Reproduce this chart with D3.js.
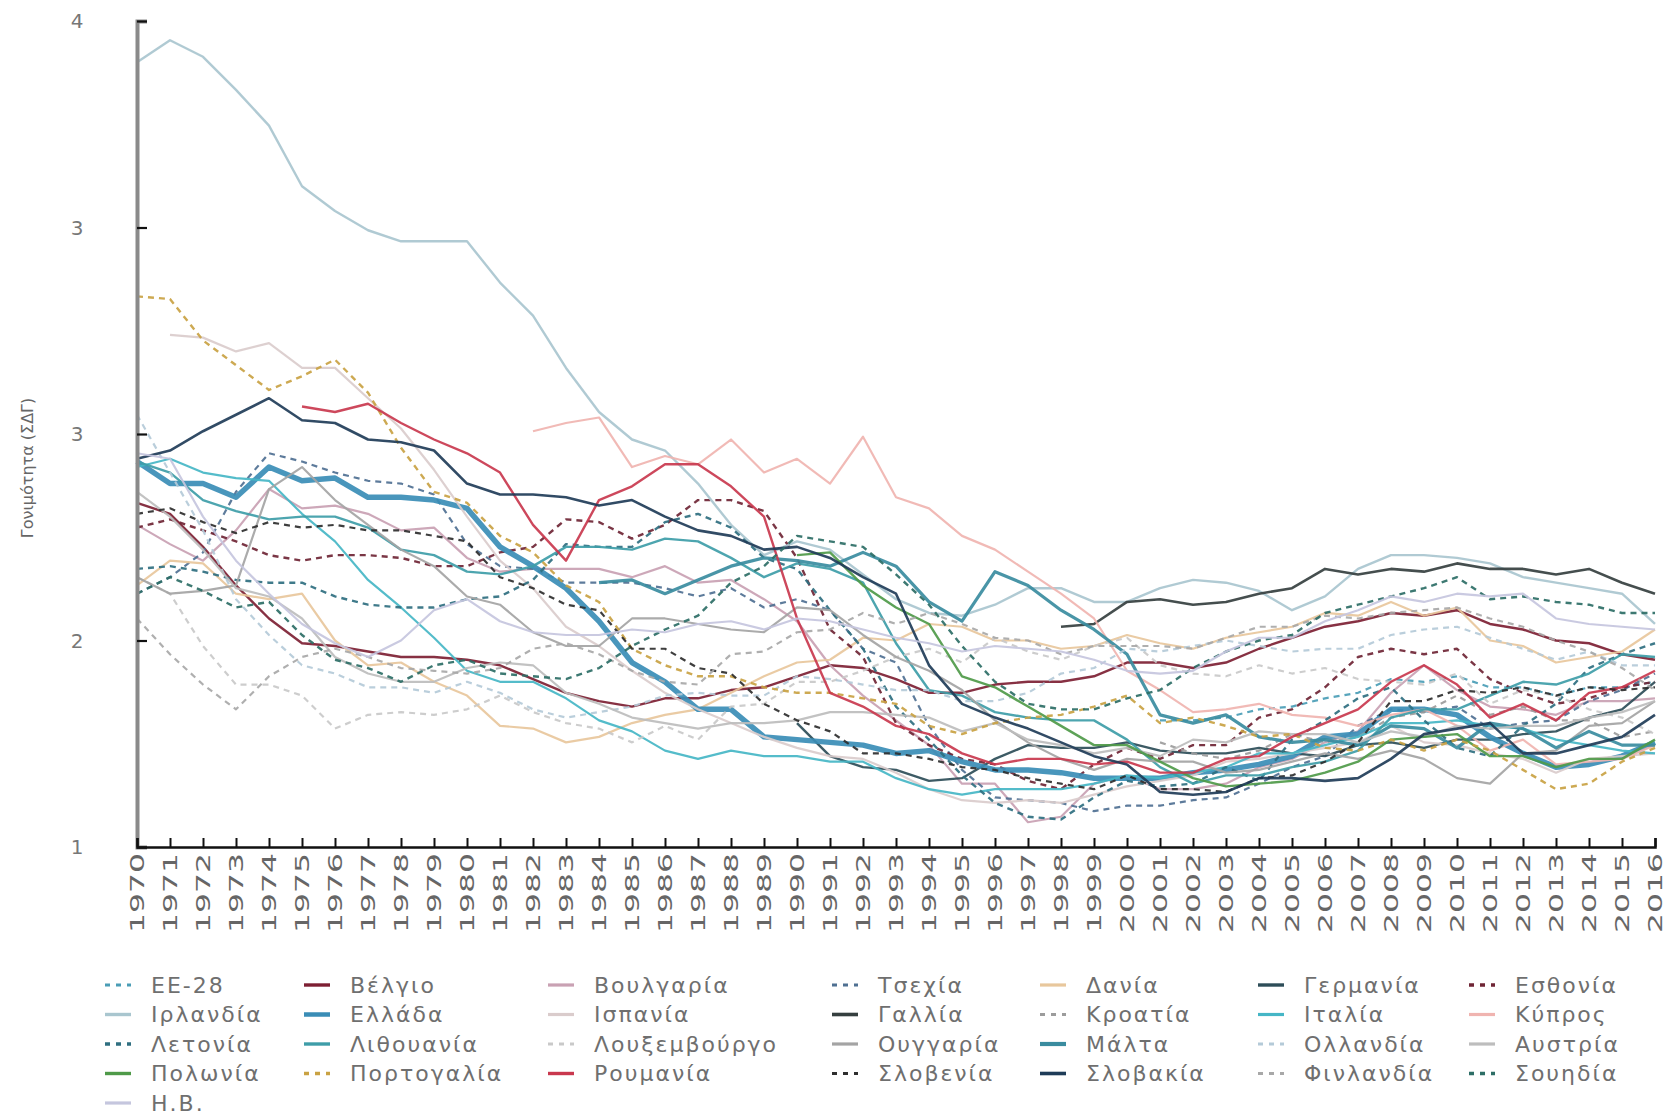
<!DOCTYPE html>
<html lang="el">
<head>
<meta charset="utf-8">
<title>Γονιμότητα (ΣΔΓ) 1970-2016</title>
<script src="https://d3js.org/d3.v7.min.js"></script>
<style>
  body { margin: 0; background: #fff; }
  text { font-family: "DejaVu Sans", sans-serif; }
</style>
</head>
<body>
<div id="chart"></div>
<script>
// categories
const years = [1970,1971,1972,1973,1974,1975,1976,1977,1978,1979,
  1980,1981,1982,1983,1984,1985,1986,1987,1988,1989,
  1990,1991,1992,1993,1994,1995,1996,1997,1998,1999,
  2000,2001,2002,2003,2004,2005,2006,2007,2008,2009,
  2010,2011,2012,2013,2014,2015,2016];

const yTicks = [1, 1.75, 2.5, 3.25, 4];
const yTickLabels = ["1", "2", "3", "3", "4"];

const names = ["ΕΕ-28","Βέλγιο","Βουλγαρία","Τσεχία","Δανία","Γερμανία","Εσθονία",
  "Ιρλανδία","Ελλάδα","Ισπανία","Γαλλία","Κροατία","Ιταλία","Κύπρος",
  "Λετονία","Λιθουανία","Λουξεμβούργο","Ουγγαρία","Μάλτα","Ολλανδία","Αυστρία",
  "Πολωνία","Πορτογαλία","Ρουμανία","Σλοβενία","Σλοβακία","Φινλανδία","Σουηδία",
  "Η.Β."];

// series values, one per year (null = no data)
const _ = null;
const eu28 = [_,_,_,_,_,_,_,_,_,_, _,_,_,_,_,_,_,_,_,_, _,_,_,_,_,_,_,_,_,_,
  _,1.46,1.46,1.47,1.50,1.51,1.54,1.56,1.61,1.60, 1.62,1.58,1.58,1.55,1.58,1.58,1.60];
const belgium = [2.25,2.21,2.09,1.95,1.83,1.74,1.73,1.71,1.69,1.69, 1.68,1.66,1.61,1.56,1.53,1.51,1.54,1.54,1.57,1.58,
  1.62,1.66,1.65,1.61,1.56,1.56,1.59,1.60,1.60,1.62, 1.67,1.67,1.65,1.67,1.72,1.76,1.80,1.82,1.85,1.84, 1.86,1.81,1.79,1.75,1.74,1.70,1.68];
const bulgaria = [2.17,2.10,2.04,2.15,2.30,2.23,2.24,2.21,2.15,2.16, 2.05,2.00,2.01,2.01,2.01,1.98,2.02,1.96,1.97,1.90,
  1.82,1.66,1.55,1.46,1.37,1.23,1.23,1.09,1.11,1.23, 1.26,1.21,1.21,1.23,1.29,1.32,1.38,1.42,1.56,1.66, 1.57,1.51,1.50,1.48,1.53,1.53,1.54];
const czechia = [1.92,1.98,2.07,2.29,2.43,2.40,2.36,2.33,2.32,2.28, 2.10,2.02,2.01,1.96,1.96,1.96,1.94,1.91,1.94,1.87,
  1.90,1.86,1.72,1.67,1.44,1.28,1.18,1.17,1.16,1.13, 1.15,1.15,1.17,1.18,1.23,1.29,1.33,1.44,1.50,1.49, 1.51,1.43,1.45,1.46,1.53,1.57,1.63];
const denmark = [1.95,2.04,2.03,1.92,1.90,1.92,1.75,1.66,1.67,1.60, 1.55,1.44,1.43,1.38,1.40,1.45,1.48,1.50,1.56,1.62,
  1.67,1.68,1.76,1.75,1.81,1.80,1.75,1.75,1.72,1.73, 1.77,1.74,1.72,1.76,1.78,1.80,1.85,1.84,1.89,1.84, 1.87,1.75,1.73,1.67,1.69,1.71,1.79];
const germany = [_,_,_,_,_,_,_,_,_,_, _,_,_,_,_,_,_,_,_,_,
  1.45,1.33,1.29,1.28,1.24,1.25,1.32,1.37,1.36,1.36, 1.38,1.35,1.34,1.34,1.36,1.34,1.33,1.37,1.38,1.36, 1.39,1.39,1.41,1.42,1.47,1.50,1.60];
const estonia = [2.16,2.19,2.15,2.11,2.06,2.04,2.06,2.06,2.05,2.02, 2.02,2.07,2.09,2.19,2.18,2.12,2.17,2.26,2.26,2.22,
  2.05,1.79,1.69,1.45,1.37,1.32,1.30,1.24,1.21,1.30, 1.36,1.32,1.37,1.37,1.47,1.50,1.58,1.69,1.72,1.70, 1.72,1.61,1.56,1.52,1.54,1.58,1.60];
const ireland = [3.85,3.93,3.87,3.75,3.62,3.40,3.31,3.24,3.20,3.20, 3.20,3.05,2.93,2.74,2.58,2.48,2.44,2.32,2.17,2.06,
  2.11,2.08,1.99,1.90,1.85,1.84,1.88,1.94,1.94,1.89, 1.89,1.94,1.97,1.96,1.93,1.86,1.91,2.01,2.06,2.06, 2.05,2.03,1.98,1.96,1.94,1.92,1.81];
const greece = [2.40,2.32,2.32,2.27,2.38,2.33,2.34,2.27,2.27,2.26, 2.23,2.09,2.02,1.94,1.82,1.67,1.60,1.50,1.50,1.40,
  1.39,1.38,1.37,1.34,1.35,1.31,1.28,1.28,1.27,1.25, 1.25,1.25,1.27,1.28,1.30,1.33,1.40,1.41,1.50,1.50, 1.48,1.40,1.34,1.29,1.30,1.33,1.38];
const spain = [_,2.86,2.85,2.80,2.83,2.74,2.74,2.63,2.52,2.37, 2.20,2.04,1.94,1.80,1.73,1.64,1.56,1.50,1.45,1.40,
  1.36,1.33,1.32,1.27,1.21,1.17,1.16,1.17,1.16,1.19, 1.22,1.24,1.26,1.31,1.32,1.34,1.36,1.38,1.44,1.38, 1.37,1.34,1.32,1.27,1.32,1.33,1.34];
const france = [_,_,_,_,_,_,_,_,_,_, _,_,_,_,_,_,_,_,_,_, _,_,_,_,_,_,_,_,
  1.80,1.81, 1.89,1.90,1.88,1.89,1.92,1.94,2.01,1.99,2.01,2.00, 2.03,2.01,2.01,1.99,2.01,1.96,1.92];
const croatia = [_,_,_,_,_,_,_,_,_,_, _,_,_,_,_,_,_,_,_,_, _,_,_,_,_,_,_,_,_,_,
  _,1.38,1.34,1.32,1.35,1.41,1.38,1.40,1.47,1.49, 1.55,1.48,1.51,1.46,1.46,1.40,1.42];
const italy = [2.38,2.41,2.36,2.34,2.33,2.21,2.11,1.97,1.87,1.76, 1.64,1.60,1.60,1.54,1.46,1.42,1.35,1.32,1.35,1.33,
  1.33,1.31,1.31,1.25,1.21,1.19,1.21,1.21,1.21,1.23, 1.26,1.25,1.27,1.29,1.34,1.34,1.37,1.40,1.45,1.45, 1.46,1.44,1.43,1.39,1.37,1.35,1.34];
const cyprus = [_,_,_,_,_,_,_,_,_,_, _,_,2.51,2.54,2.56,2.38,2.42,2.39,2.48,2.36,
  2.41,2.32,2.49,2.27,2.23,2.13,2.08,2.00,1.92,1.83, 1.64,1.57,1.49,1.50,1.52,1.48,1.47,1.44,1.48,1.50, 1.44,1.35,1.39,1.30,1.31,1.32,1.37];
const latvia = [2.01,2.02,2.00,1.97,1.96,1.96,1.91,1.88,1.87,1.87, 1.90,1.91,1.97,2.10,2.09,2.09,2.18,2.21,2.16,2.05,
  2.01,1.86,1.72,1.51,1.39,1.26,1.16,1.11,1.10,1.18, 1.24,1.22,1.23,1.29,1.24,1.39,1.46,1.54,1.58,1.46, 1.36,1.33,1.44,1.52,1.65,1.70,1.74];
const lithuania = [2.40,2.36,2.26,2.22,2.19,2.20,2.20,2.16,2.08,2.06, 2.00,1.99,2.02,2.09,2.09,2.08,2.12,2.11,2.05,1.98,
  2.03,2.01,1.96,1.74,1.57,1.55,1.49,1.47,1.46,1.46, 1.39,1.29,1.23,1.26,1.26,1.29,1.31,1.35,1.47,1.50, 1.50,1.55,1.60,1.59,1.63,1.70,1.69];
const luxembourg = [1.98,1.92,1.73,1.59,1.59,1.55,1.43,1.48,1.49,1.48, 1.50,1.55,1.49,1.45,1.43,1.38,1.44,1.39,1.51,1.52,
  1.60,1.60,1.64,1.69,1.72,1.67,1.76,1.71,1.68,1.73, 1.76,1.66,1.63,1.62,1.66,1.63,1.65,1.61,1.60,1.59, 1.63,1.52,1.57,1.55,1.50,1.47,1.41];
const hungary = [1.98,1.92,1.93,1.95,2.30,2.38,2.26,2.17,2.08,2.02, 1.91,1.88,1.78,1.73,1.73,1.83,1.83,1.81,1.79,1.78,
  1.87,1.86,1.77,1.69,1.64,1.57,1.46,1.38,1.32,1.28, 1.32,1.31,1.31,1.27,1.28,1.31,1.34,1.32,1.35,1.32, 1.25,1.23,1.34,1.35,1.44,1.45,1.53];
const malta = [_,_,_,_,_,_,_,_,_,_, _,_,_,_,1.96,1.97,1.92,1.97,2.02,2.05,
  2.04,2.02,2.07,2.02,1.89,1.82,2.00,1.95,1.86,1.79, 1.70,1.48,1.45,1.48,1.40,1.38,1.39,1.37,1.44,1.43, 1.36,1.45,1.43,1.36,1.42,1.37,1.37];
const netherlands = [2.57,2.36,2.15,1.90,1.77,1.66,1.63,1.58,1.58,1.56, 1.60,1.56,1.50,1.47,1.49,1.51,1.55,1.56,1.55,1.55,
  1.62,1.61,1.59,1.57,1.57,1.53,1.53,1.56,1.63,1.65, 1.72,1.71,1.73,1.75,1.73,1.71,1.72,1.72,1.77,1.79, 1.80,1.76,1.72,1.68,1.71,1.66,1.66];
const austria = [2.29,2.20,2.08,1.94,1.91,1.83,1.69,1.63,1.60,1.60, 1.65,1.67,1.66,1.56,1.52,1.47,1.45,1.43,1.45,1.45,
  1.46,1.49,1.49,1.48,1.47,1.42,1.45,1.39,1.37,1.34, 1.36,1.33,1.39,1.38,1.42,1.41,1.41,1.38,1.42,1.40, 1.44,1.43,1.44,1.44,1.47,1.49,1.53];
const poland = [_,_,_,_,_,_,_,_,_,_, _,_,_,_,_,_,_,_,_,_,
  2.06,2.07,1.95,1.87,1.81,1.62,1.58,1.51,1.44,1.37, 1.37,1.31,1.25,1.22,1.23,1.24,1.27,1.31,1.39,1.40, 1.41,1.33,1.33,1.29,1.32,1.32,1.39];
const portugal = [3.00,2.99,2.84,2.75,2.66,2.71,2.77,2.65,2.45,2.29, 2.25,2.13,2.07,1.95,1.89,1.72,1.66,1.62,1.62,1.58,
  1.56,1.56,1.54,1.52,1.44,1.41,1.45,1.47,1.48,1.51, 1.55,1.45,1.47,1.44,1.40,1.41,1.36,1.35,1.39,1.35, 1.39,1.35,1.28,1.21,1.23,1.31,1.36];
const romania = [_,_,_,_,_,2.60,2.58,2.61,2.54,2.48, 2.43,2.36,2.17,2.04,2.26,2.31,2.39,2.39,2.31,2.20,
  1.83,1.56,1.51,1.44,1.41,1.34,1.30,1.32,1.32,1.30, 1.31,1.27,1.27,1.32,1.33,1.40,1.45,1.50,1.60,1.66, 1.59,1.47,1.52,1.46,1.56,1.58,1.64];
const slovenia = [2.21,2.23,2.18,2.14,2.18,2.16,2.17,2.15,2.15,2.13, 2.11,1.98,1.94,1.88,1.86,1.72,1.72,1.65,1.63,1.52,
  1.46,1.42,1.34,1.34,1.32,1.29,1.28,1.25,1.23,1.21, 1.26,1.21,1.21,1.20,1.25,1.26,1.31,1.38,1.53,1.53, 1.57,1.56,1.58,1.55,1.58,1.57,1.58];
const slovakia = [2.41,2.44,2.51,2.57,2.63,2.55,2.54,2.48,2.47,2.44, 2.32,2.28,2.28,2.27,2.24,2.26,2.20,2.15,2.13,2.08,
  2.09,2.05,1.98,1.92,1.66,1.52,1.47,1.43,1.38,1.33, 1.30,1.20,1.19,1.20,1.25,1.25,1.24,1.25,1.32,1.41, 1.43,1.45,1.34,1.34,1.37,1.40,1.48];
const finland = [1.83,1.70,1.59,1.50,1.62,1.69,1.72,1.69,1.65,1.64, 1.63,1.65,1.72,1.74,1.70,1.64,1.60,1.59,1.70,1.71,
  1.78,1.79,1.85,1.81,1.85,1.81,1.76,1.75,1.70,1.73, 1.73,1.73,1.72,1.76,1.80,1.80,1.84,1.83,1.85,1.86, 1.87,1.83,1.80,1.75,1.71,1.65,1.57];
const sweden = [1.92,1.98,1.93,1.87,1.89,1.77,1.68,1.65,1.60,1.66, 1.68,1.63,1.62,1.61,1.65,1.73,1.79,1.84,1.96,2.02,
  2.13,2.11,2.09,1.99,1.88,1.73,1.60,1.52,1.50,1.50, 1.54,1.57,1.65,1.71,1.75,1.77,1.85,1.88,1.91,1.94, 1.98,1.90,1.91,1.89,1.88,1.85,1.85];
const uk = [2.43,2.41,2.20,2.04,1.92,1.81,1.74,1.69,1.75,1.86, 1.90,1.82,1.78,1.77,1.77,1.79,1.78,1.81,1.82,1.79,
  1.83,1.82,1.79,1.76,1.74,1.71,1.73,1.72,1.71,1.68, 1.64,1.63,1.64,1.71,1.76,1.76,1.82,1.86,1.91,1.89, 1.92,1.91,1.92,1.83,1.81,1.80,1.79];

const seriesValues = [eu28, belgium, bulgaria, czechia, denmark, germany, estonia,
  ireland, greece, spain, france, croatia, italy, cyprus,
  latvia, lithuania, luxembourg, hungary, malta, netherlands, austria,
  poland, portugal, romania, slovenia, slovakia, finland, sweden, uk];

// line styles, same order as names
const colors = ["#4a9db6","#7d1f33","#c9a1b3","#4f7092","#e8c79c","#2d4d58","#6f2535",
  "#a9c6cf","#3a8db6","#dacccc","#353f3f","#9c9c9c","#45b6c6","#f0b4b0",
  "#2f6f80","#3e9da8","#c9c9c9","#a4a4a4","#3a8c9f","#b4cad8","#bdbdbd",
  "#4f9a49","#c9a243","#c9384e","#2e2e2e","#1f3c58","#a8a8a8","#2d6e66",
  "#c5c6de"];
const dashed = [true,false,false,true,false,false,true,
  false,false,false,false,true,false,false,
  true,false,true,false,false,true,false,
  false,true,false,true,false,true,true,
  false];
const widths = [2.2,2.4,2.2,2.2,2.2,2.4,2.4,
  2.4,5.5,2.2,2.6,2.2,2.2,2.2,
  2.4,2.4,2.2,2.2,3.2,2.2,2.2,
  2.4,2.4,2.4,2.2,2.6,2.2,2.4,
  2.2];

const W = 1668, H = 1118;
const mLeft = 137, mRight = 1655, mTop = 21, mBottom = 847;

const svg = d3.select("#chart").append("svg")
  .attr("width", W).attr("height", H)
  .style("background", "#fff");

const x = d3.scaleLinear().domain([1970, 2016]).range([mLeft, mRight]);
const y = d3.scaleLinear().domain([1, 4]).range([mBottom, mTop]);

const table = names.map((name, i) => ({
  name: name,
  color: colors[i],
  dashed: dashed[i],
  width: widths[i],
  points: years.map((yr, j) => ({ year: yr, v: seriesValues[i][j] }))
}));

// lines
const line = d3.line()
  .defined(d => d.v !== null)
  .x(d => x(d.year))
  .y(d => y(d.v));

svg.append("g").selectAll("path")
  .data(table)
  .join("path")
  .attr("d", d => line(d.points))
  .attr("fill", "none")
  .attr("stroke", d => d.color)
  .attr("stroke-width", d => d.width)
  .attr("stroke-dasharray", d => d.dashed ? "6,5" : null)
  .attr("stroke-linejoin", "round")
  .attr("stroke-opacity", 0.92);

// y axis
const yAxis = svg.append("g")
  .attr("transform", `translate(${mLeft},0)`)
  .call(d3.axisRight(y).tickValues(yTicks).tickSize(10).tickFormat(""));
yAxis.select(".domain").attr("stroke", "#8a8a8a").attr("stroke-width", 4);
yAxis.selectAll(".tick line").attr("stroke", "#111").attr("stroke-width", 2.2);

svg.append("g").selectAll("text")
  .data(yTicks)
  .join("text")
  .attr("x", 77).attr("y", d => y(d))
  .attr("dy", "0.36em")
  .attr("text-anchor", "middle")
  .attr("font-size", 20)
  .attr("fill", "#777")
  .text((d, i) => yTickLabels[i]);

svg.append("text")
  .attr("transform", "translate(33,468) rotate(-90)")
  .attr("text-anchor", "middle")
  .attr("font-size", 16)
  .attr("fill", "#666")
  .text("Γονιμότητα (ΣΔΓ)");

// x axis
const xAxis = svg.append("g")
  .attr("transform", `translate(0,${mBottom})`)
  .call(d3.axisTop(x).tickValues(years).tickSize(9).tickFormat(""));
xAxis.select(".domain").attr("stroke", "#111").attr("stroke-width", 2.5);
xAxis.selectAll(".tick line").attr("stroke", "#111").attr("stroke-width", 2);

svg.append("g").selectAll("text")
  .data(years)
  .join("text")
  .attr("transform", d => `translate(${x(d)},853) rotate(-90)`)
  .attr("dy", "0.36em")
  .attr("text-anchor", "end")
  .attr("font-size", 19)
  .attr("fill", "#666")
  .attr("textLength", 80)
  .attr("lengthAdjust", "spacingAndGlyphs")
  .text(d => d);

// legend, 7 columns
const legendCols = [105, 304, 548, 832, 1040, 1258, 1469];
const legendRow0 = 985, legendRowStep = 29.5;

const legend = svg.append("g").selectAll("g")
  .data(table)
  .join("g")
  .attr("transform", (d, i) =>
    `translate(${legendCols[i % 7]},${legendRow0 + Math.floor(i / 7) * legendRowStep})`);

legend.append("line")
  .attr("x1", 0).attr("x2", 26)
  .attr("stroke", d => d.color)
  .attr("stroke-width", d => Math.min(d.width + 1, 4.5))
  .attr("stroke-dasharray", d => d.dashed ? "5,6" : null);

legend.append("text")
  .attr("x", 46).attr("dy", "0.36em")
  .attr("font-size", 22)
  .attr("letter-spacing", 2)
  .attr("fill", "#6f6f6f")
  .text(d => d.name);
</script>
</body>
</html>
